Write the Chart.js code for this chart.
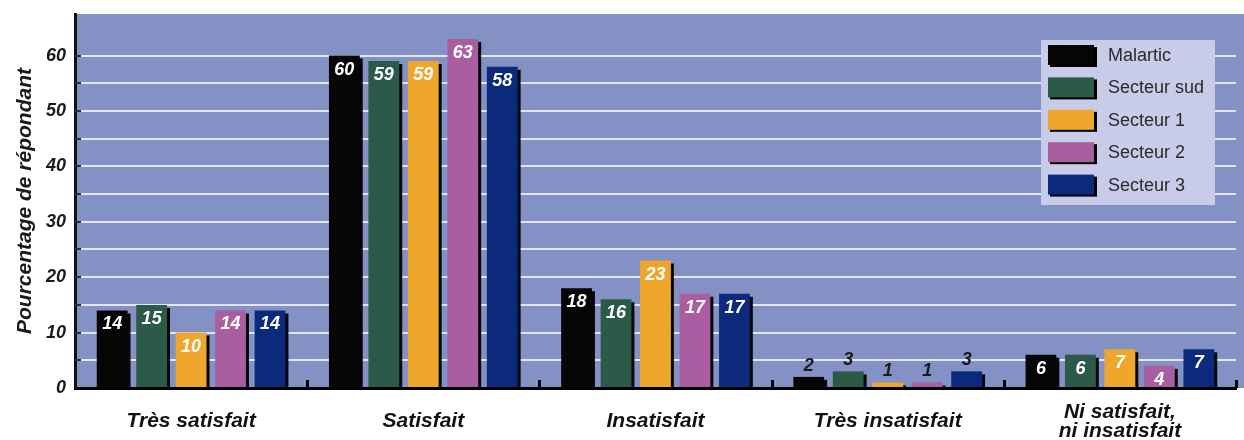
<!DOCTYPE html>
<html><head><meta charset="utf-8">
<script src="https://cdn.jsdelivr.net/npm/chart.js@4"></script>
<style>html,body{margin:0;padding:0;background:#fff;}#wrap{width:1244px;height:440px;}</style>
</head><body><div id="wrap"><canvas id="c" width="1244" height="440"></canvas></div>
<script>
const categories = ["Très satisfait", "Satisfait", "Insatisfait", "Très insatisfait", ["Ni satisfait,", "ni insatisfait"]];
const seriesNames = ["Malartic", "Secteur sud", "Secteur 1", "Secteur 2", "Secteur 3"];
const malartic = [14, 60, 18, 2, 6];
const secteurSud = [15, 59, 16, 3, 6];
const secteur1 = [10, 59, 23, 1, 7];
const secteur2 = [14, 63, 17, 1, 4];
const secteur3 = [14, 58, 17, 3, 7];
const yTickLabels = [0, 10, 20, 30, 40, 50, 60];
const colors = ["#050505", "#2b5a48", "#eea62c", "#a95e9f", "#0c2a7b"];
const FONT = "Arial, 'Liberation Sans', Helvetica, sans-serif";

const seriesValues = [malartic, secteurSud, secteur1, secteur2, secteur3];

const bgPlugin = {
  id: 'bg',
  beforeDraw(chart) {
    const {ctx, chartArea: a} = chart;
    ctx.save();
    ctx.fillStyle = '#8391c4';
    ctx.fillRect(a.left, a.top, chart.width - a.left, a.bottom - a.top);
    ctx.restore();
  }
};

const shadowPlugin = {
  id: 'barShadow',
  beforeDatasetsDraw(chart) {
    const ctx = chart.ctx;
    ctx.save();
    ctx.shadowColor = 'rgba(0,0,0,0.95)';
    ctx.shadowOffsetX = 3;
    ctx.shadowOffsetY = 3;
    ctx.shadowBlur = 0;
  },
  afterDatasetsDraw(chart) {
    chart.ctx.restore();
  }
};

const overlayPlugin = {
  id: 'overlay',
  afterDraw(chart) {
    const {ctx, chartArea: a, scales} = chart;
    const xs = scales.x, ys = scales.y;
    ctx.save();
    // y tick stubs inside plot
    ctx.fillStyle = '#2a2a3a';
    ys.ticks.forEach(t => {
      const y = ys.getPixelForValue(t.value);
      if (t.value > 0 && t.value < ys.max) ctx.fillRect(a.left, Math.round(y) - 1, 6, 2);
    });
    // group separator ticks
    const n = chart.data.labels.length;
    const step = xs.getPixelForValue(1) - xs.getPixelForValue(0);
    ctx.fillStyle = '#000';
    for (let i = 0; i < n; i++) {
      const x = xs.getPixelForValue(i) + step / 2;
      ctx.fillRect(Math.round(x) - 1, a.bottom - 8, 3, 8);
    }
    // value labels
    ctx.font = `italic bold 18px ${FONT}`;
    ctx.textAlign = 'center';
    ctx.textBaseline = 'middle';
    chart.data.datasets.forEach((ds, di) => {
      const meta = chart.getDatasetMeta(di);
      meta.data.forEach((bar, i) => {
        const v = ds.data[i];
        if (v >= 4) {
          ctx.fillStyle = '#ffffff';
          ctx.fillText(String(v), bar.x, bar.y + 14);
        } else {
          ctx.fillStyle = '#1a1a1a';
          ctx.fillText(String(v), bar.x, bar.y - 11);
        }
      });
    });
    // legend
    const lx = 1041, ly = 40, lw = 174, lh = 165;
    ctx.fillStyle = '#c8cce9';
    ctx.fillRect(lx, ly, lw, lh);
    ctx.font = `18px ${FONT}`;
    ctx.textAlign = 'left';
    chart.data.datasets.forEach((ds, di) => {
      const cy = 56 + di * 32.4;
      ctx.fillStyle = '#000';
      ctx.fillRect(lx + 9, cy - 9, 47, 20);
      ctx.fillStyle = ds.backgroundColor;
      ctx.fillRect(lx + 7, cy - 11, 46, 20);
      ctx.fillStyle = '#2a2a2a';
      ctx.fillText(ds.label, lx + 67, cy);
    });
    ctx.restore();
  }
};

new Chart(document.getElementById('c'), {
  type: 'bar',
  data: {
    labels: categories,
    datasets: seriesNames.map((name, i) => ({
      label: name,
      data: seriesValues[i],
      backgroundColor: colors[i],
      borderWidth: 0,
      categoryPercentage: 0.85,
      barPercentage: 0.78
    }))
  },
  options: {
    responsive: false,
    animation: false,
    devicePixelRatio: 1,
    layout: { padding: { top: 14, right: 8, left: 0, bottom: 0 } },
    plugins: { legend: { display: false }, tooltip: { enabled: false } },
    scales: {
      x: {
        grid: { display: false, drawTicks: false },
        border: { display: true, color: '#000', width: 3 },
        ticks: {
          color: '#111',
          font: { family: FONT, size: 21, style: 'italic', weight: 'bold', lineHeight: 0.9 },
          padding: 24,
          crossAlign: 'center',
          maxRotation: 0,
          autoSkip: false
        },
        afterFit(scale) { scale.height = 52; scale.paddingLeft = 0; scale.paddingRight = 0; }
      },
      y: {
        min: 0,
        max: 67.5,
        grid: {
          color: (c) => (c.tick && c.tick.value > 65) ? 'rgba(0,0,0,0)' : '#e3e5f6',
          lineWidth: 2,
          drawTicks: false
        },
        border: { display: true, color: '#111', width: 3 },
        ticks: {
          stepSize: 5,
          color: '#1a1a1a',
          padding: 9,
          font: { family: FONT, size: 18, style: 'italic', weight: 'bold' },
          callback(v) { return yTickLabels.includes(v) ? String(v) : ''; }
        },
        title: {
          display: true,
          text: 'Pourcentage de répondant',
          color: '#1a1a1a',
          font: { family: FONT, size: 21, style: 'italic', weight: 'bold', lineHeight: 1.2 },
          padding: { top: 13, bottom: 0 }
        },
        afterFit(scale) { scale.width = 75; scale.paddingTop = 0; scale.paddingBottom = 0; }
      }
    }
  },
  plugins: [bgPlugin, shadowPlugin, overlayPlugin]
});
</script>
</body></html>
